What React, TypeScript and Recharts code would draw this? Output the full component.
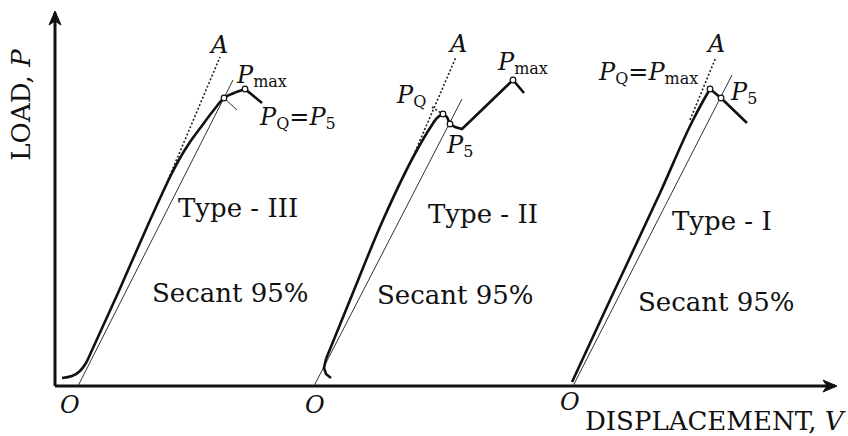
import React from "react"
import { LineChart, Line, XAxis, YAxis, ReferenceLine, ReferenceDot } from "recharts"

// displacement (x) and load (y), arbitrary units
const curveIII = [
  { x: 0.7, y: 0.8 },
  { x: 1.7, y: 1.0 },
  { x: 2.5, y: 1.5 },
  { x: 3.1, y: 2.3 },
  { x: 3.8, y: 3.8 },
  { x: 6.3, y: 9.3 },
  { x: 9.2, y: 15.9 },
  { x: 10.7, y: 19.2 },
  { x: 11.6, y: 21.1 },
  { x: 12.5, y: 22.8 },
  { x: 13.5, y: 24.4 },
  { x: 14.6, y: 25.9 },
  { x: 15.8, y: 27.5 },
  { x: 16.9, y: 28.8 },
  { x: 17.9, y: 29.3 },
  { x: 19.0, y: 29.7 },
]
const curveIIITail = [
  { x: 19.0, y: 29.7 },
  { x: 20.7, y: 28.3 },
]
const secantIII = [
  { x: 2.3, y: 0 },
  { x: 17.8, y: 30.6 },
]
const tangentIII = [
  { x: 11.0, y: 19.9 },
  { x: 16.5, y: 32.9 },
]
const tickIII = [
  { x: 16.9, y: 28.8 },
  { x: 18.2, y: 27.6 },
]
const marksIII = [
  { x: 16.9, y: 28.8 },
  { x: 19.0, y: 29.7 },
]

const hookII = [
  { x: 27.6, y: 0.8 },
  { x: 27.1, y: 1.2 },
  { x: 26.9, y: 1.8 },
  { x: 27.1, y: 2.7 },
]
const riseII = [
  { x: 27.1, y: 2.7 },
  { x: 29.5, y: 8.6 },
  { x: 32.8, y: 16.6 },
  { x: 36.2, y: 23.6 },
  { x: 37.5, y: 25.8 },
  { x: 38.2, y: 26.8 },
  { x: 38.8, y: 27.2 },
]
const tailII = [
  { x: 38.8, y: 27.2 },
  { x: 39.2, y: 26.9 },
  { x: 39.5, y: 26.2 },
  { x: 40.0, y: 25.9 },
  { x: 40.7, y: 25.7 },
  { x: 45.8, y: 30.6 },
  { x: 46.9, y: 29.3 },
]
const secantII = [
  { x: 25.9, y: 0 },
  { x: 40.7, y: 28.7 },
]
const tangentII = [
  { x: 36.0, y: 23.4 },
  { x: 40.1, y: 32.9 },
]
const leaderII = [
  { x: 37.7, y: 27.9 },
  { x: 38.6, y: 27.3 },
]
const marksII = [
  { x: 38.8, y: 27.2 },
  { x: 39.5, y: 26.2 },
  { x: 45.8, y: 30.6 },
]

const curveI = [
  { x: 51.7, y: 0.4 },
  { x: 55.5, y: 8.6 },
  { x: 60.5, y: 19.3 },
  { x: 63.8, y: 26.6 },
  { x: 64.7, y: 28.3 },
  { x: 65.5, y: 29.7 },
]
const curveITail = [
  { x: 65.5, y: 29.7 },
  { x: 66.6, y: 28.8 },
  { x: 69.2, y: 26.3 },
]
const secantI = [
  { x: 51.8, y: 0 },
  { x: 67.7, y: 31.1 },
]
const tangentI = [
  { x: 63.5, y: 26.6 },
  { x: 66.1, y: 32.9 },
]
const marksI = [
  { x: 65.5, y: 29.7 },
  { x: 66.6, y: 28.8 },
]

const X_MAX = 78
const Y_MAX = 37.3

type Part = { t: string; it?: boolean; sub?: boolean }
type Note = { x: number; y: number; parts: Part[]; size?: number }

const notes: Note[] = [
  { x: 15.6, y: 33.3, parts: [{ t: "A", it: true }] },
  { x: 18.2, y: 30.3, parts: [{ t: "P", it: true }, { t: "max", sub: true }] },
  { x: 20.5, y: 26.1, parts: [{ t: "P", it: true }, { t: "Q", sub: true }, { t: "=" }, { t: "P", it: true }, { t: "5", sub: true }] },
  { x: 39.5, y: 33.4, parts: [{ t: "A", it: true }] },
  { x: 44.3, y: 31.6, parts: [{ t: "P", it: true }, { t: "max", sub: true }] },
  { x: 34.2, y: 28.3, parts: [{ t: "P", it: true }, { t: "Q", sub: true }] },
  { x: 39.2, y: 23.3, parts: [{ t: "P", it: true }, { t: "5", sub: true }] },
  { x: 65.3, y: 33.4, parts: [{ t: "A", it: true }] },
  { x: 54.4, y: 30.6, parts: [{ t: "P", it: true }, { t: "Q", sub: true }, { t: "=" }, { t: "P", it: true }, { t: "max", sub: true }] },
  { x: 67.6, y: 28.6, parts: [{ t: "P", it: true }, { t: "5", sub: true }] },
  { x: 12.3, y: 16.9, parts: [{ t: "Type - III" }], size: 26 },
  { x: 37.3, y: 16.3, parts: [{ t: "Type - II" }], size: 26 },
  { x: 61.7, y: 15.6, parts: [{ t: "Type - I" }], size: 26 },
  { x: 9.7, y: 8.4, parts: [{ t: "Secant 95%" }], size: 26 },
  { x: 32.2, y: 8.2, parts: [{ t: "Secant 95%" }], size: 26 },
  { x: 58.3, y: 7.5, parts: [{ t: "Secant 95%" }], size: 26 },
  { x: 0.5, y: -2.7, parts: [{ t: "O", it: true }] },
  { x: 25.0, y: -2.7, parts: [{ t: "O", it: true }] },
  { x: 50.5, y: -2.4, parts: [{ t: "O", it: true }] },
  { x: 53.0, y: -4.4, parts: [{ t: "DISPLACEMENT, " }, { t: "V", it: true }], size: 26 },
]

const FONT = "'DejaVu Serif', serif"

const NoteText = ({ cx, cy, parts, size }: any) => {
  const big = size || 24
  return (
    <text x={cx} y={cy} fontFamily={FONT} fontSize={big} fill="#111">
      {parts.map((p: Part, i: number) => (
        <tspan
          key={i}
          fontStyle={p.it ? "italic" : "normal"}
          fontSize={p.sub ? 16 : big}
          dy={p.sub ? 4 : i > 0 && parts[i - 1].sub ? -4 : 0}
        >
          {p.t}
        </tspan>
      ))}
    </text>
  )
}

const ArrowUp = ({ cx, cy }: any) => (
  <path d={`M${cx},${cy - 2} L${cx - 6},${cy + 12} L${cx},${cy + 8} L${cx + 6},${cy + 12} Z`} fill="#111" stroke="#111" strokeWidth={1} />
)
const ArrowRight = ({ cx, cy }: any) => (
  <path d={`M${cx + 2},${cy} L${cx - 12},${cy - 6} L${cx - 8},${cy} L${cx - 12},${cy + 6} Z`} fill="#111" stroke="#111" strokeWidth={1} />
)

const LoadLabel = ({ cx, cy }: any) => (
  <text x={cx} y={cy} transform={`rotate(-90 ${cx} ${cy})`} textAnchor="middle" fontFamily={FONT} fontSize={26} fill="#111">
    LOAD, <tspan fontStyle="italic">P</tspan>
  </text>
)

const thick = { stroke: "#111", strokeWidth: 2.6, dot: false, isAnimationActive: false, legendType: "none" as const }
const thin = { stroke: "#333", strokeWidth: 1, dot: false, isAnimationActive: false, legendType: "none" as const, type: "linear" as const }
const dotted = { stroke: "#222", strokeWidth: 1.6, strokeDasharray: "2 2", dot: false, isAnimationActive: false, legendType: "none" as const, type: "linear" as const }

export default function App() {
  return (
    <div style={{ position: "absolute", left: 0, top: 0, background: "#fff" }}>
      <LineChart width={848} height={436} margin={{ top: 13, right: 13, bottom: 50, left: 55 }}>
        <XAxis type="number" dataKey="x" domain={[0, X_MAX]} allowDataOverflow hide />
        <YAxis type="number" dataKey="y" domain={[0, Y_MAX]} allowDataOverflow hide />

        <ReferenceLine x={0} stroke="#111" strokeWidth={3} ifOverflow="visible" />
        <ReferenceLine y={0} stroke="#111" strokeWidth={3} ifOverflow="visible" />
        <ReferenceDot x={0} y={Y_MAX} r={0} ifOverflow="visible" shape={(p: any) => <ArrowUp {...p} />} />
        <ReferenceDot x={X_MAX} y={0} r={0} ifOverflow="visible" shape={(p: any) => <ArrowRight {...p} />} />

        <Line data={secantIII} dataKey="y" {...thin} />
        <Line data={tangentIII} dataKey="y" {...dotted} />
        <Line data={tickIII} dataKey="y" {...thin} />
        <Line data={curveIII} dataKey="y" type="monotone" {...thick} />
        <Line data={curveIIITail} dataKey="y" type="linear" {...thick} />

        <Line data={secantII} dataKey="y" {...thin} />
        <Line data={tangentII} dataKey="y" {...dotted} />
        <Line data={leaderII} dataKey="y" {...dotted} />
        <Line data={hookII} dataKey="y" type="linear" {...thick} />
        <Line data={riseII} dataKey="y" type="monotone" {...thick} />
        <Line data={tailII} dataKey="y" type="linear" {...thick} />

        <Line data={secantI} dataKey="y" {...thin} />
        <Line data={tangentI} dataKey="y" {...dotted} />
        <Line data={curveI} dataKey="y" type="monotone" {...thick} />
        <Line data={curveITail} dataKey="y" type="linear" {...thick} />

        {[...marksIII, ...marksII, ...marksI].map((m, i) => (
          <ReferenceDot key={`m${i}`} x={m.x} y={m.y} r={2.8} fill="#fff" stroke="#111" strokeWidth={1.2} ifOverflow="visible" />
        ))}

        {notes.map((n, i) => (
          <ReferenceDot
            key={`n${i}`}
            x={n.x}
            y={n.y}
            r={0}
            ifOverflow="visible"
            shape={(p: any) => <NoteText cx={p.cx} cy={p.cy} parts={n.parts} size={n.size} />}
          />
        ))}
        <ReferenceDot x={-2.5} y={28.1} r={0} ifOverflow="visible" shape={(p: any) => <LoadLabel {...p} />} />
      </LineChart>
    </div>
  )
}
